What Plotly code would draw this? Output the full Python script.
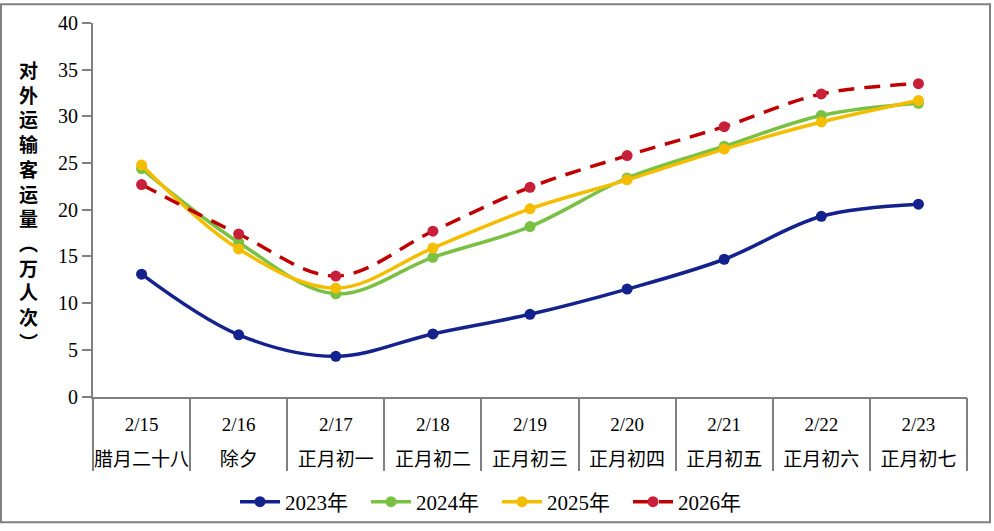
import plotly.graph_objects as go

dates = ["2/15", "2/16", "2/17", "2/18", "2/19", "2/20", "2/21", "2/22", "2/23"]
lunar = ["腊月二十八", "除夕", "正月初一", "正月初二", "正月初三", "正月初四", "正月初五", "正月初六", "正月初七"]
v2023 = [13.1, 6.6, 4.3, 6.7, 8.8, 11.5, 14.7, 19.3, 20.6]
v2024 = [24.4, 16.5, 11.0, 14.9, 18.2, 23.4, 26.8, 30.1, 31.4]
v2025 = [24.8, 15.8, 11.6, 15.9, 20.1, 23.2, 26.5, 29.4, 31.7]
v2026 = [22.7, 17.4, 12.9, 17.7, 22.4, 25.8, 28.9, 32.4, 33.5]
series_names = ["2023年", "2024年", "2025年", "2026年"]
y_title = "对外运输客运量︵万人次︶"

W, H = 994, 531
ML, MR, MT, MB = 93, 27, 20, 131
FONT = "Liberation Serif, Noto Sans CJK SC, serif"
GRAY = "#808080"

n = len(dates)
idx = list(range(n))

fig = go.Figure()
styles = [
    dict(line=dict(color="#13228C", width=3.5, shape="spline"), marker=dict(color="#13228C", size=11)),
    dict(line=dict(color="#7AC143", width=3.5, shape="spline"), marker=dict(color="#7AC143", size=11)),
    dict(line=dict(color="#F5BD00", width=3.5, shape="spline"), marker=dict(color="#F5BD00", size=11)),
    dict(line=dict(color="#C00000", width=3.5, shape="spline", dash="16px,10px"), marker=dict(color="#C8203A", size=11)),
]
for name, vals, st in zip(series_names, [v2023, v2024, v2025, v2026], styles):
    fig.add_trace(go.Scatter(x=idx, y=vals, name=name, mode="lines+markers",
                             line=st["line"], marker=st["marker"], xaxis="x", yaxis="y",
                             hoverinfo="x+y"))

# empty helper traces so that the overlay axes (lunar labels, boundary ticks) are drawn
for ax in ["x2", "x3"]:
    fig.add_trace(go.Scatter(x=idx, y=[None] * n, xaxis=ax, yaxis="y", mode="lines",
                             showlegend=False, hoverinfo="skip"))

rng = [-0.5, n - 0.5]
fig.update_layout(
    width=W, height=H, autosize=False,
    margin=dict(l=ML, r=MR, t=MT, b=MB),
    paper_bgcolor="white", plot_bgcolor="white",
    font=dict(family=FONT, color="black", size=19),
    showlegend=True,
    legend=dict(orientation="h", xref="container", yref="container",
                x=0.5, xanchor="center", y=1 - 502 / H, yanchor="middle",
                bgcolor="rgba(0,0,0,0)",
                font=dict(size=21, family=FONT), entrywidth=76, entrywidthmode="pixels",
                itemwidth=40),
    xaxis=dict(range=rng, tickvals=idx, ticktext=dates, ticks="", showline=True,
               linecolor=GRAY, linewidth=2, showgrid=False, zeroline=False,
               tickfont=dict(size=19), ticklabelstandoff=10),
    xaxis2=dict(range=rng, overlaying="x", anchor="y", side="bottom",
                tickvals=idx, ticktext=lunar, ticks="", showline=False,
                showgrid=False, zeroline=False, tickfont=dict(size=19),
                ticklabelstandoff=49),
    xaxis3=dict(range=rng, overlaying="x", anchor="y", side="bottom",
                tickvals=[i - 0.5 for i in range(n + 1)], ticks="outside", ticklen=73,
                tickwidth=2, tickcolor=GRAY, showticklabels=False, showline=False,
                showgrid=False, zeroline=False),
    yaxis=dict(range=[0, 40], dtick=5, ticks="outside", ticklen=9, tickwidth=2,
               tickcolor=GRAY, showline=True, linecolor=GRAY, linewidth=2,
               showgrid=False, zeroline=False, tickfont=dict(size=20)),
)

fig.add_annotation(text="<br>".join(list(y_title)), xref="paper", yref="paper",
                   x=-(ML - 28) / (W - ML - MR), y=(400 - 206) / (400 - MT),
                   xanchor="center", yanchor="middle", showarrow=False,
                   font=dict(size=19, family="Noto Sans CJK SC", color="black", weight="bold"))

pw, ph = W - ML - MR, H - MT - MB
fig.add_shape(type="rect", xref="paper", yref="paper",
              x0=-(ML - 1) / pw, x1=1 + (MR - 4) / pw,
              y0=-(MB - 3) / ph, y1=1 + (MT - 1) / ph,
              line=dict(color=GRAY, width=2), layer="above")

fig.write_html("out.html", config={"displayModeBar": False},
               post_script="document.body.style.margin='0';document.body.style.overflow='hidden';")
